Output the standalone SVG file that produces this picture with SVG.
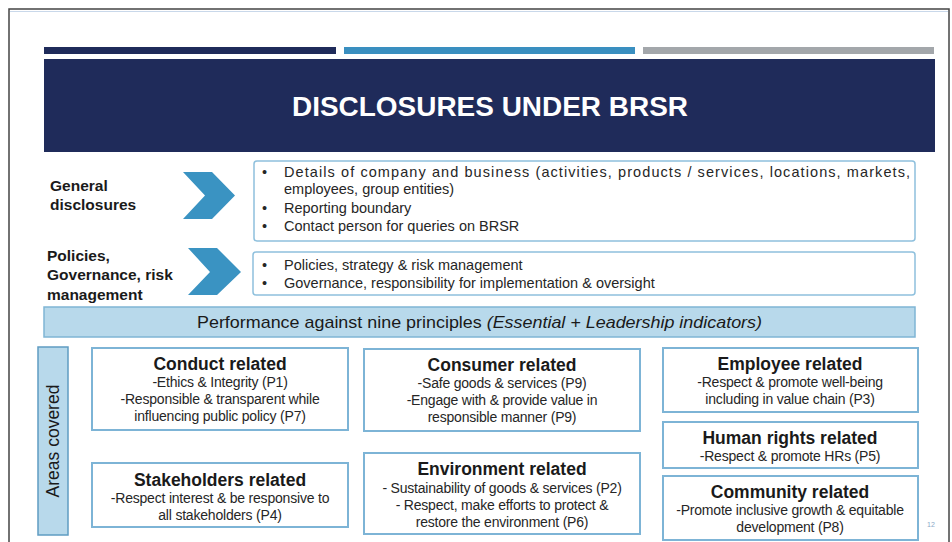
<svg xmlns="http://www.w3.org/2000/svg" width="952" height="542" viewBox="0 0 952 542">
<style>
text{font-family:"Liberation Sans",Arial,sans-serif;fill:#1a1a1a}
.lbl{font-size:15.5px;font-weight:bold}
.bul{font-size:14.5px;fill:#262626}
.box{fill:#fff;stroke:#8ec0dd;stroke-width:1.5}
.card{fill:#fff;stroke:#7db4d6;stroke-width:2}
.ttl{font-size:17.5px;font-weight:bold;text-anchor:middle}
.sub{font-size:14px;text-anchor:middle;fill:#262626;letter-spacing:-0.2px}
.chev{fill:#3a93c2}
</style>
<rect x="9" y="9" width="940" height="545" fill="#fff" stroke="#444" stroke-width="1.5"/>
<line x1="10" y1="11.5" x2="948" y2="11.5" stroke="#c9d8ea" stroke-width="1"/>
<g id="top-bars">
<rect x="44" y="47" width="292" height="7" fill="#1f2b5a"/>
<rect x="344" y="47" width="291" height="7" fill="#3a8fc0"/>
<rect x="643" y="47" width="291" height="7" fill="#a3a7ab"/>
</g>
<g id="title">
<rect x="44" y="59" width="891" height="93" fill="#1f2b5a"/>
<text x="292" y="116" textLength="396" lengthAdjust="spacingAndGlyphs" style="font-size:27px;font-weight:bold;fill:#fff">DISCLOSURES UNDER BRSR</text>
</g>
<g id="general">
<text class="lbl" x="50" y="191">General</text>
<text class="lbl" x="50" y="210">disclosures</text>
<polygon class="chev" points="183,172 212,172 235,195.5 212,219 183,219 205,195.5"/>
<rect class="box" x="254" y="161" width="661" height="80" rx="3"/>
<text class="bul" x="262" y="177">•</text>
<text class="bul" x="284" y="177" textLength="626" lengthAdjust="spacing">Details of company and business (activities, products / services, locations, markets,</text>
<text class="bul" x="284" y="194">employees, group entities)</text>
<text class="bul" x="262" y="213">•</text>
<text class="bul" x="284" y="213">Reporting boundary</text>
<text class="bul" x="262" y="231">•</text>
<text class="bul" x="284" y="231">Contact person for queries on BRSR</text>
</g>
<g id="policies">
<text class="lbl" x="47" y="261">Policies,</text>
<text class="lbl" x="47" y="280">Governance, risk</text>
<text class="lbl" x="47" y="300">management</text>
<polygon class="chev" points="188,248 217,248 241,272 217,295 188,295 210,272"/>
<rect class="box" x="253" y="252" width="662" height="43" rx="3"/>
<text class="bul" x="262" y="270">•</text>
<text class="bul" x="284" y="270">Policies, strategy &amp; risk management</text>
<text class="bul" x="262" y="288">•</text>
<text class="bul" x="284" y="288">Governance, responsibility for implementation &amp; oversight</text>
</g>
<g id="performance">
<rect x="44" y="307" width="871" height="30" fill="#b8d9eb" stroke="#7fb5d5" stroke-width="1.5"/>
<text x="197" y="328" textLength="565" lengthAdjust="spacingAndGlyphs" style="font-size:17px">Performance against nine principles <tspan font-style="italic">(Essential + Leadership indicators)</tspan></text>
</g>
<g id="areas-covered">
<rect x="38" y="347" width="30" height="188" fill="#b8d9eb" stroke="#5f9cc2" stroke-width="1.5"/>
<text transform="translate(59,441) rotate(-90)" text-anchor="middle" style="font-size:17.5px">Areas covered</text>
</g>
<g id="conduct">
<rect class="card" x="92" y="348" width="256" height="82"/>
<text class="ttl" x="220" y="370">Conduct related</text>
<text class="sub" x="220" y="387">-Ethics &amp; Integrity (P1)</text>
<text class="sub" x="220" y="404">-Responsible &amp; transparent while</text>
<text class="sub" x="220" y="421">influencing public policy (P7)</text>
</g>
<g id="stakeholders">
<rect class="card" x="92" y="463" width="256" height="64"/>
<text class="ttl" x="220" y="486">Stakeholders related</text>
<text class="sub" x="220" y="503">-Respect interest &amp; be responsive to</text>
<text class="sub" x="220" y="520">all stakeholders (P4)</text>
</g>
<g id="consumer">
<rect class="card" x="364" y="349" width="276" height="82"/>
<text class="ttl" x="502" y="371">Consumer related</text>
<text class="sub" x="502" y="388">-Safe goods &amp; services (P9)</text>
<text class="sub" x="502" y="405">-Engage with &amp; provide value in</text>
<text class="sub" x="502" y="422">responsible manner (P9)</text>
</g>
<g id="environment">
<rect class="card" x="364" y="453" width="276" height="81"/>
<text class="ttl" x="502" y="475">Environment related</text>
<text class="sub" x="502" y="493">- Sustainability of goods &amp; services (P2)</text>
<text class="sub" x="502" y="510">- Respect, make efforts to protect &amp;</text>
<text class="sub" x="502" y="527">restore the environment (P6)</text>
</g>
<g id="employee">
<rect class="card" x="663" y="348" width="255" height="64"/>
<text class="ttl" x="790" y="370">Employee related</text>
<text class="sub" x="790" y="387">-Respect &amp; promote well-being</text>
<text class="sub" x="790" y="404">including in value chain (P3)</text>
</g>
<g id="human-rights">
<rect class="card" x="663" y="422" width="255" height="46"/>
<text class="ttl" x="790" y="444">Human rights related</text>
<text class="sub" x="790" y="461">-Respect &amp; promote HRs (P5)</text>
</g>
<g id="community">
<rect class="card" x="663" y="476" width="255" height="64"/>
<text class="ttl" x="790" y="498">Community related</text>
<text class="sub" x="790" y="515">-Promote inclusive growth &amp; equitable</text>
<text class="sub" x="790" y="532">development (P8)</text>
</g>
<text x="927" y="527" style="font-size:7px;fill:#8aa8c8">12</text>
<g id="connectors"></g>
</svg>
